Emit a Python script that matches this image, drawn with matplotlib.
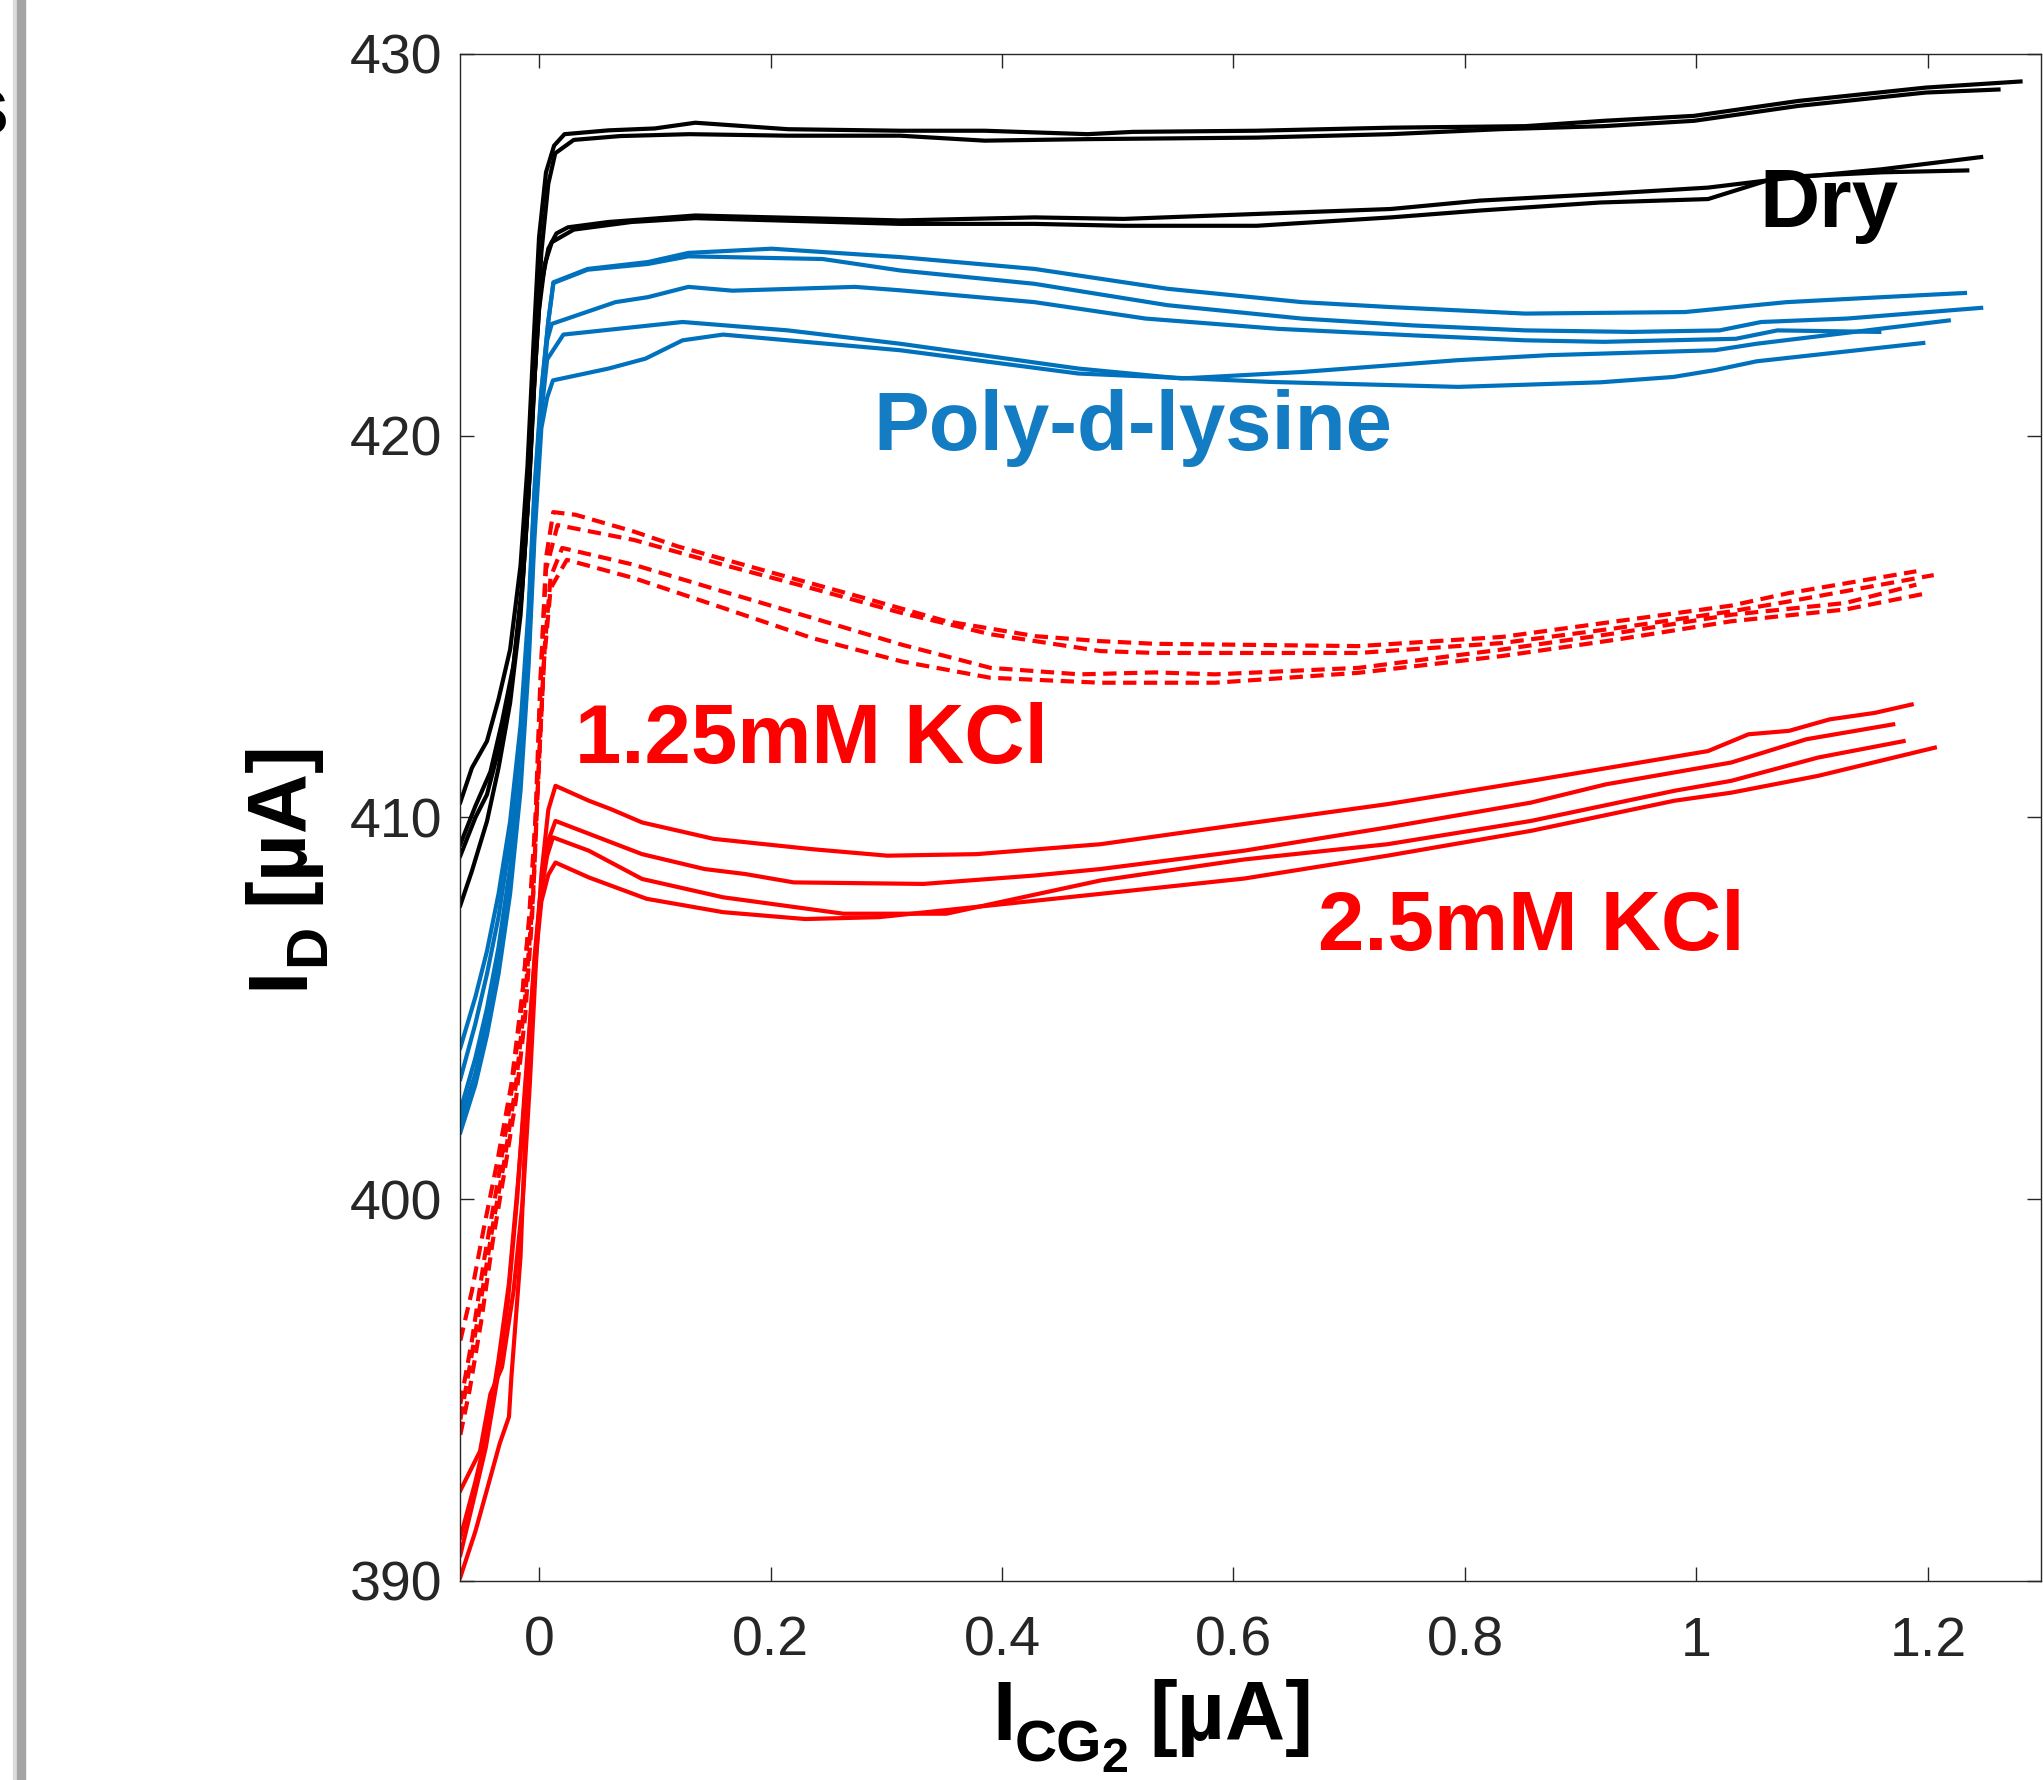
import matplotlib
matplotlib.use("Agg")
import matplotlib.pyplot as plt
from matplotlib.patches import Rectangle

plt.rcParams['font.family'] = ['Liberation Sans', 'DejaVu Sans']

# ---------------- data ----------------
# Dry (black, solid)
dry1_x = [-0.068, -0.058, -0.045, -0.035, -0.025, -0.016, -0.010, -0.005, 0.000, 0.006, 0.013, 0.022, 0.06, 0.10, 0.135, 0.215, 0.312, 0.385, 0.474, 0.513, 0.62, 0.736, 0.852, 0.92, 0.998, 1.088, 1.198, 1.28]
dry1_y = [410.4, 411.3, 412.0, 413.1, 414.4, 416.6, 419.2, 422.3, 425.2, 426.9, 427.6, 427.9, 428.0, 428.05, 428.2, 428.03, 427.99, 427.99, 427.9, 427.96, 427.99, 428.07, 428.11, 428.25, 428.38, 428.77, 429.12, 429.28]
dry2_x = [-0.068, -0.055, -0.042, -0.032, -0.022, -0.014, -0.008, -0.003, 0.002, 0.008, 0.014, 0.03, 0.07, 0.13, 0.215, 0.312, 0.385, 0.474, 0.62, 0.736, 0.83, 0.92, 0.998, 1.088, 1.198, 1.261]
dry2_y = [409.3, 410.3, 411.2, 412.5, 414.0, 416.3, 419.0, 422.0, 424.8, 426.6, 427.4, 427.75, 427.85, 427.9, 427.86, 427.86, 427.73, 427.77, 427.81, 427.9, 428.03, 428.11, 428.25, 428.64, 428.99, 429.07]
dry3_x = [-0.068, -0.055, -0.045, -0.033, -0.024, -0.015, -0.009, -0.004, 0.001, 0.008, 0.015, 0.025, 0.06, 0.135, 0.312, 0.428, 0.505, 0.62, 0.736, 0.813, 0.917, 1.01, 1.07, 1.16, 1.246]
dry3_y = [409.0, 410.0, 410.6, 412.0, 413.5, 415.8, 418.5, 421.5, 423.8, 424.9, 425.3, 425.46, 425.6, 425.77, 425.64, 425.72, 425.68, 425.81, 425.94, 426.16, 426.33, 426.5, 426.72, 426.98, 427.3]
dry4_x = [-0.068, -0.058, -0.045, -0.035, -0.025, -0.016, -0.010, -0.005, 0.000, 0.005, 0.011, 0.03, 0.08, 0.135, 0.312, 0.428, 0.505, 0.62, 0.736, 0.813, 0.917, 1.01, 1.07, 1.16, 1.234]
dry4_y = [407.7, 408.6, 409.9, 411.3, 413.0, 415.3, 418.0, 421.0, 423.3, 424.5, 425.07, 425.4, 425.6, 425.7, 425.55, 425.55, 425.5, 425.5, 425.72, 425.9, 426.11, 426.2, 426.77, 426.9, 426.95]

# Poly-d-lysine (blue, solid)
pdl1_x = [-0.068, -0.055, -0.045, -0.035, -0.025, -0.016, -0.009, -0.004, 0.002, 0.008, 0.0124, 0.042, 0.094, 0.129, 0.201, 0.312, 0.428, 0.543, 0.659, 0.736, 0.852, 0.99, 1.078, 1.16, 1.232]
pdl1_y = [403.97, 405.3, 406.5, 408.0, 409.9, 412.4, 415.5, 418.6, 421.2, 423.0, 424.02, 424.37, 424.55, 424.79, 424.9, 424.68, 424.37, 423.85, 423.5, 423.37, 423.2, 423.24, 423.5, 423.63, 423.74]
pdl2_x = [-0.068, -0.055, -0.045, -0.035, -0.025, -0.016, -0.009, -0.004, 0.002, 0.008, 0.0124, 0.042, 0.094, 0.129, 0.245, 0.312, 0.428, 0.543, 0.659, 0.755, 0.852, 0.944, 1.02, 1.056, 1.13, 1.246]
pdl2_y = [403.15, 404.6, 405.9, 407.4, 409.4, 412.0, 415.2, 418.4, 421.1, 423.0, 424.0, 424.35, 424.5, 424.7, 424.63, 424.33, 423.98, 423.42, 423.07, 422.89, 422.76, 422.72, 422.76, 422.98, 423.07, 423.35]
pdl3_x = [-0.068, -0.055, -0.045, -0.035, -0.025, -0.016, -0.009, -0.004, 0.002, 0.007, 0.011, 0.066, 0.094, 0.129, 0.167, 0.273, 0.312, 0.428, 0.524, 0.639, 0.755, 0.852, 0.92, 1.034, 1.07, 1.158]
pdl3_y = [402.33, 403.7, 405.0, 406.6, 408.7, 411.4, 414.7, 418.0, 420.8, 422.5, 422.93, 423.5, 423.63, 423.9, 423.8, 423.9, 423.81, 423.5, 423.07, 422.8, 422.63, 422.5, 422.46, 422.54, 422.76, 422.72]
pdl4_x = [-0.068, -0.055, -0.045, -0.035, -0.025, -0.016, -0.009, -0.004, 0.002, 0.007, 0.021, 0.124, 0.215, 0.312, 0.466, 0.555, 0.659, 0.794, 0.872, 1.016, 1.052, 1.218]
pdl4_y = [402.04, 403.3, 404.6, 406.2, 408.3, 411.0, 414.3, 417.6, 420.6, 422.0, 422.65, 422.98, 422.76, 422.41, 421.76, 421.5, 421.67, 421.98, 422.11, 422.24, 422.41, 423.02]
pdl5_x = [-0.068, -0.055, -0.045, -0.035, -0.025, -0.016, -0.009, -0.004, 0.002, 0.007, 0.012, 0.06, 0.092, 0.124, 0.159, 0.312, 0.466, 0.632, 0.794, 0.917, 0.98, 1.016, 1.052, 1.196]
pdl5_y = [401.75, 403.0, 404.3, 405.9, 408.0, 410.7, 414.0, 417.3, 420.2, 421.0, 421.45, 421.76, 422.02, 422.5, 422.65, 422.24, 421.63, 421.41, 421.28, 421.4, 421.54, 421.72, 421.95, 422.43]

# 1.25 mM KCl (red, dashed)
k125_1_x = [-0.068, -0.058, -0.048, -0.036, -0.024, -0.014, -0.007, -0.002, 0.002, 0.006, 0.0123, 0.0315, 0.082, 0.12, 0.197, 0.275, 0.352, 0.429, 0.485, 0.532, 0.708, 0.832, 0.931, 1.03, 1.08, 1.19]
k125_1_y = [396.3, 397.6, 399.2, 401.0, 403.0, 405.5, 407.8, 410.5, 414.0, 416.8, 418.0, 417.93, 417.49, 417.1, 416.45, 415.8, 415.14, 414.75, 414.62, 414.55, 414.49, 414.73, 415.14, 415.55, 415.88, 416.45]
k125_2_x = [-0.068, -0.058, -0.047, -0.036, -0.026, -0.016, -0.009, -0.003, 0.001, 0.006, 0.016, 0.082, 0.159, 0.236, 0.313, 0.39, 0.485, 0.532, 0.708, 0.832, 0.931, 1.03, 1.08, 1.205]
k125_2_y = [394.64, 396.3, 398.5, 400.4, 402.3, 404.8, 407.2, 410.0, 413.5, 416.5, 417.66, 417.27, 416.62, 416.0, 415.36, 414.8, 414.36, 414.31, 414.31, 414.57, 414.96, 415.4, 415.66, 416.35]
k125_3_x = [-0.068, -0.06, -0.05, -0.04, -0.03, -0.02, -0.012, -0.005, 0.0, 0.005, 0.01, 0.02, 0.082, 0.159, 0.236, 0.313, 0.39, 0.467, 0.532, 0.584, 0.708, 0.832, 0.931, 1.03, 1.129, 1.19]
k125_3_y = [394.23, 395.6, 397.4, 399.3, 401.0, 403.0, 405.3, 408.0, 411.5, 414.5, 416.3, 417.06, 416.62, 415.92, 415.23, 414.53, 413.92, 413.75, 413.8, 413.75, 413.92, 414.4, 414.83, 415.31, 415.62, 416.1]
k125_4_x = [-0.068, -0.06, -0.05, -0.04, -0.03, -0.02, -0.012, -0.006, -0.001, 0.004, 0.01, 0.024, 0.082, 0.159, 0.236, 0.313, 0.39, 0.485, 0.532, 0.584, 0.708, 0.832, 0.931, 1.03, 1.129, 1.195]
k125_4_y = [393.83, 395.0, 396.8, 398.9, 400.7, 402.6, 404.8, 407.4, 410.8, 414.0, 416.0, 416.75, 416.27, 415.49, 414.7, 414.09, 413.66, 413.53, 413.53, 413.53, 413.79, 414.23, 414.66, 415.14, 415.45, 415.85]

# 2.5 mM KCl (red, solid)
k25_1_x = [-0.068, -0.051, -0.042, -0.032, -0.022, -0.014, -0.008, -0.003, 0.002, 0.008, 0.0142, 0.043, 0.062, 0.089, 0.151, 0.236, 0.301, 0.378, 0.485, 0.609, 0.733, 0.857, 1.01, 1.045, 1.08, 1.115, 1.154, 1.186]
k25_1_y = [392.37, 393.4, 394.9, 395.6, 397.6, 400.0, 403.0, 406.0, 408.5, 410.2, 410.83, 410.44, 410.22, 409.87, 409.44, 409.17, 409.0, 409.04, 409.3, 409.83, 410.35, 410.96, 411.74, 412.18, 412.27, 412.57, 412.74, 412.96]
k25_2_x = [-0.068, -0.055, -0.045, -0.035, -0.026, -0.018, -0.01, -0.004, 0.002, 0.008, 0.0142, 0.089, 0.143, 0.178, 0.22, 0.332, 0.428, 0.485, 0.609, 0.733, 0.857, 0.922, 1.03, 1.095, 1.17]
k25_2_y = [391.14, 392.6, 393.9, 395.8, 397.8, 400.5, 403.5, 406.3, 408.3, 409.4, 409.91, 409.04, 408.65, 408.52, 408.3, 408.26, 408.48, 408.65, 409.13, 409.74, 410.39, 410.87, 411.44, 412.05, 412.44]
k25_3_x = [-0.068, -0.056, -0.046, -0.036, -0.027, -0.019, -0.012, -0.005, 0.001, 0.007, 0.012, 0.043, 0.089, 0.159, 0.263, 0.352, 0.485, 0.609, 0.733, 0.857, 0.981, 1.03, 1.105, 1.179]
k25_3_y = [390.68, 392.2, 393.5, 395.3, 397.3, 400.0, 403.0, 405.8, 407.9, 409.0, 409.48, 409.13, 408.39, 407.91, 407.48, 407.48, 408.35, 408.9, 409.3, 409.91, 410.7, 410.96, 411.57, 412.0]
k25_4_x = [-0.068, -0.055, -0.044, -0.034, -0.026, -0.024, -0.016, -0.01, -0.004, 0.002, 0.008, 0.0142, 0.043, 0.093, 0.159, 0.23, 0.294, 0.485, 0.609, 0.733, 0.857, 0.981, 1.03, 1.105, 1.206]
k25_4_y = [390.1, 391.3, 392.5, 393.6, 394.3, 395.3, 398.5, 403.2, 406.0, 407.8, 408.5, 408.82, 408.43, 407.87, 407.52, 407.34, 407.39, 408.0, 408.4, 409.0, 409.65, 410.44, 410.65, 411.09, 411.83]

x_ticks = [0, 0.2, 0.4, 0.6, 0.8, 1.0, 1.2]
x_tick_labels = ['0', '0.2', '0.4', '0.6', '0.8', '1', '1.2']
y_ticks = [390, 400, 410, 420, 430]
y_tick_labels = ['390', '400', '410', '420', '430']

# ---------------- figure ----------------
W, H = 2043, 1780
fig = plt.figure(figsize=(W / 100, H / 100), dpi=100)
ax = fig.add_axes([460 / W, 1 - 1581 / H, (2041 - 460) / W, (1581 - 54) / H])

BLACK = '#000000'
BLUE = '#0072BD'
RED = '#FF0000'
LW = 3.0
DASH = (0, (3.2, 1.8))

groups = [
    ([(dry1_x, dry1_y), (dry2_x, dry2_y), (dry3_x, dry3_y), (dry4_x, dry4_y)], BLACK, '-'),
    ([(pdl1_x, pdl1_y), (pdl2_x, pdl2_y), (pdl3_x, pdl3_y), (pdl4_x, pdl4_y), (pdl5_x, pdl5_y)], BLUE, '-'),
    ([(k125_1_x, k125_1_y), (k125_2_x, k125_2_y), (k125_3_x, k125_3_y), (k125_4_x, k125_4_y)], RED, DASH),
    ([(k25_1_x, k25_1_y), (k25_2_x, k25_2_y), (k25_3_x, k25_3_y), (k25_4_x, k25_4_y)], RED, '-'),
]
for curves, col, ls in groups:
    for xs, ys in curves:
        ax.plot(xs, ys, color=col, lw=LW, ls=ls, solid_joinstyle='round',
                dash_joinstyle='round', dash_capstyle='butt')

ax.set_xlim(-0.0683, 1.2977)
ax.set_ylim(390, 430)
ax.set_xticks(x_ticks)
ax.set_xticklabels(x_tick_labels)
ax.set_yticks(y_ticks)
ax.set_yticklabels(y_tick_labels)

AXC = '#262626'
for s in ax.spines.values():
    s.set_color(AXC)
    s.set_linewidth(1.0)
ax.tick_params(axis='both', direction='in', length=10, width=1.0, color=AXC,
               labelcolor=AXC, labelsize=40, top=True, right=True)
ax.tick_params(axis='x', pad=25)
ax.tick_params(axis='y', pad=13)

# annotations
ax.text(1.054, 425.47, 'Dry', color=BLACK, fontsize=60, fontweight='bold',
        ha='left', va='baseline')
ax.text(0.2886, 419.63, 'Poly-d-lysine', color='#147CC2', fontsize=60,
        fontweight='bold', ha='left', va='baseline')
ax.text(0.031, 411.43, '1.25mM KCl', color=RED, fontsize=60, fontweight='bold',
        ha='left', va='baseline')
ax.text(0.673, 406.53, '2.5mM KCl', color=RED, fontsize=60, fontweight='bold',
        ha='left', va='baseline')


def ftxt(px, py, s, size, **kw):
    fig.text(px / W, 1 - py / H, s, fontsize=size, fontweight='bold',
             ha='left', va='baseline', color='black', **kw)


# x axis label  I_{CG_2} [µA]  (built from pieces)
ftxt(992, 1740, 'I', 60)
ftxt(1015, 1761, 'CG', 42)
ftxt(1101, 1772, '2', 35)
ftxt(1149, 1740, '[µA]', 60)

# y axis label  I_D [µA]  (rotated pieces)
rk = dict(rotation=90, rotation_mode='anchor')
ftxt(302, 989, 'I', 60, **rk)
ftxt(324, 966, 'D', 42, **rk)
ftxt(302, 904, '[µA]', 60, **rk)

# left edge remnant of a neighbouring panel
fig.patches.append(Rectangle((13 / W, 0), 4 / W, 1, transform=fig.transFigure,
                             color='#dcdcdc', zorder=0))
fig.patches.append(Rectangle((17 / W, 0), 8 / W, 1, transform=fig.transFigure,
                             color='#a4a4a4', zorder=0))
fig.text(8 / W, 1 - 112 / H, 's', fontsize=60, fontweight='bold', ha='right',
         va='center', color='black')

fig.savefig('out.png', dpi=100)
